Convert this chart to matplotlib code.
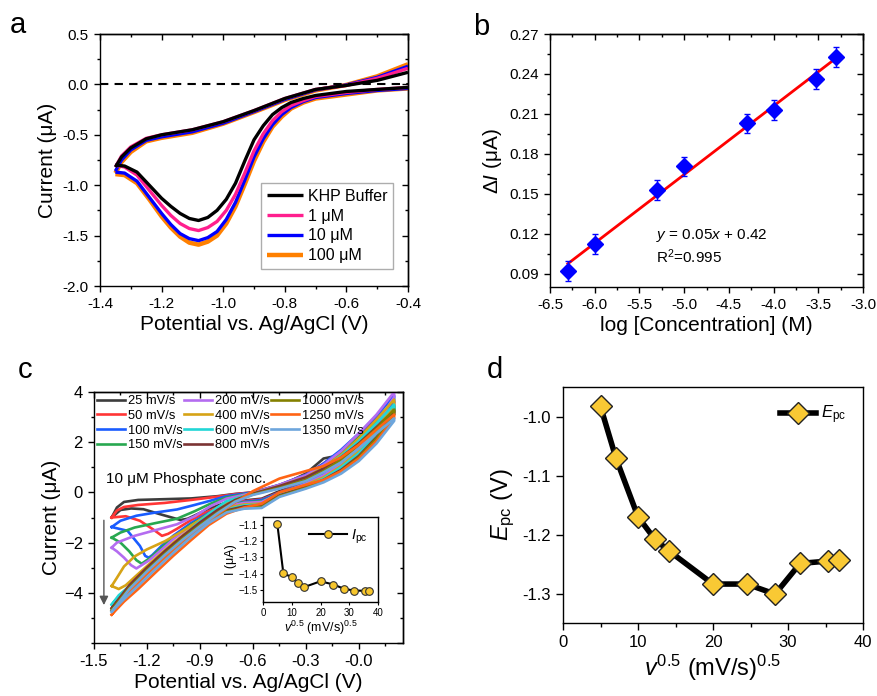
import numpy as np
import matplotlib
matplotlib.use("Agg")
import matplotlib.pyplot as plt
from matplotlib.ticker import MultipleLocator, NullFormatter

plt.rcParams['font.family'] = ['Liberation Sans', 'DejaVu Sans']
plt.rcParams['mathtext.fontset'] = 'custom'
plt.rcParams['mathtext.rm'] = 'Liberation Sans'
plt.rcParams['mathtext.it'] = 'Liberation Sans:italic'
plt.rcParams['axes.linewidth'] = 1.0

# ---------------- panel a: CV in KHP buffer ----------------
a_up_x = [-1.35, -1.33, -1.30, -1.25, -1.20, -1.10, -1.00, -0.90, -0.80, -0.70, -0.60, -0.50, -0.40]
a_lo_x = [-0.40, -0.50, -0.60, -0.65, -0.70, -0.74, -0.78, -0.81, -0.84, -0.87, -0.90, -0.93,
          -0.96, -0.99, -1.02, -1.05, -1.08, -1.11, -1.14, -1.17, -1.20, -1.24, -1.28, -1.32, -1.35]
a_labels = ["KHP Buffer", "1 \u03bcM", "10 \u03bcM", "100 \u03bcM"]
a_colors = ["#000000", "#ff1f8e", "#0000ff", "#ff8000"]
a_up_y = [
    [-0.82, -0.72, -0.63, -0.54, -0.50, -0.45, -0.37, -0.26, -0.14, -0.05, -0.01, 0.04, 0.12],
    [-0.82, -0.71, -0.62, -0.535, -0.50, -0.45, -0.37, -0.26, -0.14, -0.05, -0.01, 0.06, 0.16],
    [-0.86, -0.75, -0.65, -0.555, -0.52, -0.47, -0.385, -0.27, -0.15, -0.055, -0.005, 0.07, 0.18],
    [-0.88, -0.77, -0.67, -0.565, -0.53, -0.48, -0.39, -0.275, -0.155, -0.06, -0.005, 0.08, 0.20],
]
a_lo_y = [
    [-0.03, -0.05, -0.07, -0.09, -0.11, -0.14, -0.18, -0.23, -0.30, -0.41, -0.55, -0.76,
     -0.98, -1.14, -1.25, -1.32, -1.35, -1.33, -1.28, -1.21, -1.13, -1.00, -0.87, -0.81, -0.80],
    [-0.03, -0.05, -0.08, -0.10, -0.12, -0.16, -0.21, -0.27, -0.36, -0.49, -0.66, -0.88,
     -1.09, -1.25, -1.36, -1.42, -1.45, -1.43, -1.38, -1.30, -1.20, -1.05, -0.90, -0.82, -0.80],
    [-0.04, -0.06, -0.09, -0.11, -0.13, -0.17, -0.23, -0.30, -0.40, -0.54, -0.72, -0.95,
     -1.17, -1.34, -1.46, -1.52, -1.55, -1.53, -1.48, -1.39, -1.28, -1.12, -0.96, -0.88, -0.87],
    [-0.04, -0.06, -0.10, -0.12, -0.14, -0.18, -0.24, -0.32, -0.42, -0.57, -0.76, -0.99,
     -1.21, -1.38, -1.50, -1.56, -1.59, -1.57, -1.51, -1.42, -1.31, -1.14, -0.98, -0.90, -0.89],
]

# ---------------- panel b: calibration ----------------
b_x = np.array([-6.30, -6.00, -5.30, -5.00, -4.30, -4.00, -3.52, -3.30])
b_y = np.array([0.0923, 0.1123, 0.1528, 0.1706, 0.2029, 0.2127, 0.2365, 0.2527])
b_err = np.array([0.0075, 0.0075, 0.0075, 0.0070, 0.0070, 0.0075, 0.0075, 0.0075])

# ---------------- panel c: scan rates ----------------
c_labels = ["25 mV/s", "50 mV/s", "100 mV/s", "150 mV/s", "200 mV/s", "400 mV/s",
            "600 mV/s", "800 mV/s", "1000 mV/s", "1250 mV/s", "1350 mV/s"]
c_colors = ["#3c3c3c", "#ff3535", "#1a5cff", "#28a850", "#b46cf0", "#d6a316",
            "#22d6d6", "#7b3434", "#848000", "#ff6414", "#6ea6dc"]
c_25 = [(-1.40, -1.00), (-1.37, -0.60), (-1.33, -0.38), (-1.25, -0.30), (-1.10, -0.27), (-0.95, -0.24),
        (-0.80, -0.15), (-0.70, -0.06), (-0.60, 0.00), (-0.45, 0.25), (-0.30, 0.75), (-0.20, 1.35),
        (-0.13, 1.45), (-0.05, 1.75), (0.05, 2.35), (0.12, 2.85), (0.20, 3.35),
        (0.20, 3.20), (0.10, 2.40), (0.00, 1.65), (-0.10, 1.10), (-0.20, 0.75), (-0.30, 0.45),
        (-0.45, 0.05), (-0.55, -0.25), (-0.65, -0.32), (-0.75, -0.40), (-0.85, -0.65), (-0.93, -0.92),
        (-0.97, -1.05), (-1.01, -1.10), (-1.06, -1.00), (-1.13, -0.86), (-1.22, -0.67), (-1.29, -0.64),
        (-1.35, -0.70), (-1.40, -1.00)]
c_50 = [(-1.40, -1.00), (-1.37, -0.72), (-1.33, -0.58), (-1.25, -0.50), (-1.10, -0.42), (-0.95, -0.30),
        (-0.80, -0.17), (-0.70, -0.07), (-0.60, 0.00), (-0.45, 0.30), (-0.30, 0.70), (-0.20, 1.15),
        (-0.10, 1.65), (0.00, 2.30), (0.10, 2.95), (0.20, 3.60),
        (0.20, 3.40), (0.10, 2.50), (0.00, 1.70), (-0.10, 1.10), (-0.20, 0.70), (-0.30, 0.40),
        (-0.45, 0.00), (-0.55, -0.28), (-0.65, -0.35), (-0.75, -0.45), (-0.85, -0.75), (-0.95, -1.10),
        (-1.03, -1.45), (-1.08, -1.65), (-1.115, -1.73), (-1.16, -1.50), (-1.24, -1.13), (-1.32, -0.95),
        (-1.40, -1.00)]
c_100 = [(-1.40, -1.38), (-1.35, -1.13), (-1.26, -0.93), (-1.15, -0.80), (-1.03, -0.68), (-0.93, -0.50),
         (-0.84, -0.33), (-0.75, -0.15), (-0.60, 0.00), (-0.45, 0.30), (-0.30, 0.70), (-0.20, 1.15),
         (-0.10, 1.70), (0.00, 2.35), (0.10, 3.05), (0.20, 3.85),
         (0.20, 3.60), (0.10, 2.60), (0.00, 1.75), (-0.10, 1.15), (-0.20, 0.70), (-0.30, 0.38),
         (-0.45, -0.02), (-0.55, -0.30), (-0.65, -0.38), (-0.75, -0.50), (-0.85, -0.82), (-0.95, -1.22),
         (-1.05, -1.72), (-1.12, -2.15), (-1.17, -2.50), (-1.19, -2.60), (-1.21, -2.53), (-1.24, -2.13),
         (-1.31, -1.53), (-1.40, -1.38)]
c_150 = [(-1.40, -1.80), (-1.35, -1.60), (-1.27, -1.40), (-1.15, -1.22), (-1.03, -1.05), (-0.93, -0.75),
         (-0.84, -0.45), (-0.75, -0.20), (-0.60, -0.02), (-0.45, 0.28), (-0.30, 0.65), (-0.20, 1.05),
         (-0.10, 1.55), (0.00, 2.20), (0.10, 2.85), (0.20, 3.45),
         (0.20, 3.30), (0.10, 2.40), (0.00, 1.60), (-0.10, 1.05), (-0.20, 0.65), (-0.30, 0.35),
         (-0.45, -0.05), (-0.55, -0.35), (-0.65, -0.40), (-0.75, -0.52), (-0.85, -0.86), (-0.95, -1.28),
         (-1.05, -1.80), (-1.12, -2.22), (-1.18, -2.60), (-1.23, -2.84), (-1.26, -2.70), (-1.30, -2.35),
         (-1.35, -2.00), (-1.40, -1.80)]
c_200 = [(-1.40, -2.20), (-1.37, -2.00), (-1.27, -1.73), (-1.15, -1.50), (-1.03, -1.27), (-0.93, -0.95),
         (-0.84, -0.55), (-0.75, -0.25), (-0.60, -0.02), (-0.45, 0.30), (-0.30, 0.68), (-0.20, 1.10),
         (-0.10, 1.65), (0.00, 2.35), (0.10, 3.10), (0.20, 4.00),
         (0.20, 3.80), (0.10, 2.70), (0.00, 1.80), (-0.10, 1.15), (-0.20, 0.68), (-0.30, 0.35),
         (-0.45, -0.05), (-0.55, -0.38), (-0.65, -0.42), (-0.75, -0.55), (-0.85, -0.90), (-0.95, -1.33),
         (-1.05, -1.86), (-1.12, -2.30), (-1.19, -2.72), (-1.26, -3.03), (-1.29, -2.90), (-1.33, -2.60),
         (-1.37, -2.35), (-1.40, -2.20)]
c_400 = [(-1.40, -3.73), (-1.37, -3.40), (-1.33, -2.95), (-1.27, -2.55), (-1.20, -2.27), (-1.10, -1.95),
         (-1.00, -1.55), (-0.90, -1.10), (-0.80, -0.60), (-0.70, -0.25), (-0.60, -0.05), (-0.45, 0.25),
         (-0.30, 0.60), (-0.20, 1.00), (-0.10, 1.50), (0.00, 2.15), (0.10, 2.90), (0.20, 3.70),
         (0.20, 3.50), (0.10, 2.50), (0.00, 1.65), (-0.10, 1.05), (-0.20, 0.60), (-0.30, 0.30),
         (-0.45, -0.08), (-0.55, -0.45), (-0.65, -0.48), (-0.75, -0.62), (-0.85, -0.98), (-0.95, -1.45),
         (-1.05, -2.00), (-1.15, -2.62), (-1.25, -3.25), (-1.32, -3.70), (-1.36, -3.85), (-1.40, -3.73)]
c_600 = [(-1.40, -4.47), (-1.36, -4.10), (-1.31, -3.80), (-1.22, -3.20), (-1.12, -2.60), (-1.02, -1.95),
         (-0.93, -1.33), (-0.85, -0.85), (-0.75, -0.35), (-0.60, -0.05), (-0.45, 0.22), (-0.30, 0.55),
         (-0.20, 0.95), (-0.10, 1.45), (0.00, 2.05), (0.10, 2.75), (0.20, 3.50),
         (0.20, 3.30), (0.10, 2.35), (0.00, 1.55), (-0.10, 1.00), (-0.20, 0.55), (-0.30, 0.25),
         (-0.45, -0.10), (-0.55, -0.48), (-0.65, -0.52), (-0.75, -0.68), (-0.85, -1.05), (-0.95, -1.55),
         (-1.05, -2.12), (-1.15, -2.75), (-1.25, -3.40), (-1.33, -3.95), (-1.40, -4.47)]
c_800 = [(-1.40, -4.62), (-1.30, -3.70), (-1.20, -3.00), (-1.10, -2.35), (-1.00, -1.75), (-0.90, -1.20),
         (-0.80, -0.70), (-0.70, -0.30), (-0.60, -0.05), (-0.45, 0.25), (-0.30, 0.60), (-0.20, 0.95),
         (-0.10, 1.40), (0.00, 1.95), (0.10, 2.60), (0.20, 3.25),
         (0.20, 3.10), (0.10, 2.20), (0.00, 1.45), (-0.10, 0.90), (-0.20, 0.50), (-0.30, 0.22),
         (-0.45, -0.12), (-0.55, -0.52), (-0.65, -0.56), (-0.75, -0.72), (-0.85, -1.10), (-0.95, -1.62),
         (-1.05, -2.20), (-1.15, -2.85), (-1.25, -3.50), (-1.33, -4.05), (-1.40, -4.62)]
c_1000 = [(-1.40, -4.70), (-1.30, -3.80), (-1.20, -3.10), (-1.10, -2.45), (-1.00, -1.85), (-0.90, -1.30),
          (-0.80, -0.80), (-0.70, -0.35), (-0.60, -0.08), (-0.45, 0.18), (-0.30, 0.50), (-0.20, 0.85),
          (-0.10, 1.30), (0.00, 1.90), (0.10, 2.55), (0.20, 3.30),
          (0.20, 3.10), (0.10, 2.15), (0.00, 1.40), (-0.10, 0.85), (-0.20, 0.45), (-0.30, 0.18),
          (-0.45, -0.15), (-0.55, -0.58), (-0.65, -0.62), (-0.75, -0.76), (-0.85, -1.15), (-0.95, -1.68),
          (-1.05, -2.28), (-1.15, -2.92), (-1.25, -3.58), (-1.33, -4.12), (-1.40, -4.70)]
c_1250 = [(-1.40, -4.87), (-1.30, -3.95), (-1.20, -3.25), (-1.10, -2.60), (-1.00, -1.97), (-0.90, -1.40),
          (-0.80, -0.88), (-0.70, -0.40), (-0.60, 0.05), (-0.45, 0.55), (-0.30, 0.85), (-0.20, 1.05),
          (-0.10, 1.40), (0.00, 1.90), (0.10, 2.50), (0.20, 3.10),
          (0.20, 2.95), (0.10, 2.05), (0.00, 1.35), (-0.10, 0.85), (-0.20, 0.50), (-0.30, 0.30),
          (-0.45, 0.00), (-0.55, -0.45), (-0.65, -0.60), (-0.75, -0.85), (-0.85, -1.30), (-0.95, -1.90),
          (-1.05, -2.52), (-1.15, -3.18), (-1.25, -3.85), (-1.33, -4.35), (-1.40, -4.87)]
c_1350 = [(-1.40, -4.75), (-1.30, -3.85), (-1.20, -3.15), (-1.10, -2.50), (-1.00, -1.90), (-0.90, -1.35),
          (-0.80, -0.83), (-0.70, -0.37), (-0.60, -0.10), (-0.45, 0.15), (-0.30, 0.45), (-0.20, 0.80),
          (-0.10, 1.20), (0.00, 1.75), (0.10, 2.35), (0.20, 2.95),
          (0.20, 2.85), (0.10, 1.95), (0.00, 1.25), (-0.10, 0.75), (-0.20, 0.40), (-0.30, 0.15),
          (-0.45, -0.18), (-0.55, -0.62), (-0.65, -0.65), (-0.75, -0.80), (-0.85, -1.22), (-0.95, -1.78),
          (-1.05, -2.40), (-1.15, -3.05), (-1.25, -3.72), (-1.33, -4.25), (-1.40, -4.75)]
c_curves = [c_25, c_50, c_100, c_150, c_200, c_400, c_600, c_800, c_1000, c_1250, c_1350]

# sqrt(scan rate) and peak values (inset of c, panel d)
v_sqrt = [5.0, 7.07, 10.0, 12.25, 14.14, 20.0, 24.49, 28.28, 31.62, 35.36, 36.74]
i_pc = [-1.096, -1.397, -1.422, -1.459, -1.484, -1.447, -1.467, -1.494, -1.504, -1.506, -1.508]
e_pc = [-0.983, -1.071, -1.170, -1.208, -1.228, -1.284, -1.284, -1.301, -1.249, -1.245, -1.244]


def box_ticks(ax, xmaj, xmin, ymaj, ymin, size):
    ax.xaxis.set_major_locator(MultipleLocator(xmaj))
    ax.xaxis.set_minor_locator(MultipleLocator(xmin))
    ax.yaxis.set_major_locator(MultipleLocator(ymaj))
    ax.yaxis.set_minor_locator(MultipleLocator(ymin))
    ax.tick_params(which='both', direction='out', labelsize=size, width=1)
    ax.tick_params(which='major', length=4.5)
    ax.tick_params(which='minor', length=2.5)
    top = ax.secondary_xaxis('top')
    top.xaxis.set_major_locator(MultipleLocator(xmaj))
    top.xaxis.set_minor_locator(MultipleLocator(xmin))
    top.xaxis.set_major_formatter(NullFormatter())
    top.tick_params(which='both', direction='in', width=1)
    top.tick_params(which='major', length=4.5)
    top.tick_params(which='minor', length=2.5)
    right = ax.secondary_yaxis('right')
    right.yaxis.set_major_locator(MultipleLocator(ymaj))
    right.yaxis.set_minor_locator(MultipleLocator(ymin))
    right.yaxis.set_major_formatter(NullFormatter())
    right.tick_params(which='both', direction='in', width=1)
    right.tick_params(which='major', length=4.5)
    right.tick_params(which='minor', length=2.5)


fig = plt.figure(figsize=(8.77, 6.96), dpi=100)
W, H = 877.0, 696.0


def place(l, t, r, b):
    return [l / W, 1 - b / H, (r - l) / W, (b - t) / H]


# ---- a ----
ax_a = fig.add_axes(place(100, 34, 408, 286))
lines = []
for i in [3, 2, 1, 0]:
    lw = 3.2 if i == 3 else 2.4
    ax_a.plot(a_up_x, a_up_y[i], color=a_colors[i], lw=lw, solid_capstyle='butt')
    ln, = ax_a.plot(a_lo_x, a_lo_y[i], color=a_colors[i], lw=lw, label=a_labels[i],
                    solid_capstyle='butt')
    lines.append(ln)
ax_a.axhline(0, color='black', ls='--', lw=1.5, dashes=(4, 3))
ax_a.set_xlim(-1.4, -0.4)
ax_a.set_ylim(-2.0, 0.5)
box_ticks(ax_a, 0.2, 0.1, 0.5, 0.25, 11)
ax_a.xaxis.set_major_formatter(plt.FuncFormatter(lambda v, p: f"{v:.1f}"))
ax_a.yaxis.set_major_formatter(plt.FuncFormatter(lambda v, p: f"{v:.1f}"))
ax_a.set_xlabel("Potential vs. Ag/AgCl (V)", fontsize=15, labelpad=3)
ax_a.set_ylabel("Current (\u03bcA)", fontsize=15, labelpad=4)
leg = ax_a.legend(handles=lines[::-1], loc='lower right', bbox_to_anchor=(0.951, 0.068),
                  fontsize=11.5, frameon=True, fancybox=False, edgecolor='#999999',
                  handlelength=2.25, handletextpad=0.3, labelspacing=0.3, borderpad=0.35,
                  borderaxespad=0.0)
leg.get_frame().set_linewidth(1.0)

# ---- b ----
ax_b = fig.add_axes(place(550, 34, 863, 287))
coef = np.polyfit(b_x, b_y, 1)
fit_x = np.array([b_x.min(), b_x.max()])
ax_b.plot(fit_x, np.polyval(coef, fit_x), color='#ff0000', lw=2, zorder=2)
ax_b.errorbar(b_x, b_y, yerr=b_err, fmt='D', color='#0000ff', ms=8, capsize=2.5,
              elinewidth=1, capthick=1, zorder=3)
ax_b.set_xlim(-6.5, -3.0)
ax_b.set_ylim(0.08, 0.27)
box_ticks(ax_b, 0.5, 0.25, 0.03, 0.015, 11)
ax_b.xaxis.set_major_formatter(plt.FuncFormatter(lambda v, p: f"{v:.1f}"))
ax_b.yaxis.set_major_formatter(plt.FuncFormatter(lambda v, p: f"{v:.2f}"))
ax_b.set_xlabel("log [Concentration] (M)", fontsize=15, labelpad=3)
ax_b.set_ylabel("\u0394$\\mathit{I}$ (\u03bcA)", fontsize=15, labelpad=4)
ax_b.text(-5.31, 0.1185, "$\\mathit{y}$ = 0.05$\\mathit{x}$ + 0.42", fontsize=11, va='center')
ax_b.text(-5.31, 0.1030, "R$^2$=0.995", fontsize=11, va='center')

# ---- c ----
ax_c = fig.add_axes(place(94, 392, 403, 643))
for pts, col, lab in zip(c_curves, c_colors, c_labels):
    xs = [p[0] for p in pts]
    ys = [p[1] for p in pts]
    ax_c.plot(xs, ys, color=col, lw=1.9, label=lab)
ax_c.set_xlim(-1.5, 0.25)
ax_c.set_ylim(-6, 4)
box_ticks(ax_c, 0.3, 0.15, 2, 1, 12)
ax_c.set_yticks([-4, -2, 0, 2, 4])
ax_c.xaxis.set_major_formatter(plt.FuncFormatter(lambda v, p: f"{v:.1f}"))
ax_c.set_xlabel("Potential vs. Ag/AgCl (V)", fontsize=15, labelpad=3)
ax_c.set_ylabel("Current (\u03bcA)", fontsize=15, labelpad=2)
ax_c.legend(loc='upper left', ncol=3, fontsize=9.3, frameon=False, handlelength=2.15,
            handletextpad=0.25, columnspacing=0.1, labelspacing=0.2,
            borderaxespad=0.0, borderpad=0.25, bbox_to_anchor=(0.0, 1.0))
ax_c.text(-1.43, 0.55, "10 \u03bcM Phosphate conc.", fontsize=11, va='center')
arrow_x, arrow_top, arrow_bot = -1.444, -1.0, -4.6
ax_c.annotate("", xy=(arrow_x, arrow_bot), xytext=(arrow_x, arrow_top),
              arrowprops=dict(arrowstyle='-|>', color='#555555', lw=1, mutation_scale=13))

# inset
ax_i = fig.add_axes(place(263, 517, 378, 602))
ax_i.plot(v_sqrt, i_pc, '-o', color='black', lw=1.5, ms=5.5, mfc='#f7c62c', mec='#333333',
          mew=0.8, label="$\\mathit{I}_{\\mathrm{pc}}$")
ax_i.set_xlim(0, 40)
ax_i.set_ylim(-1.575, -1.05)
ax_i.xaxis.set_major_locator(MultipleLocator(10))
ax_i.yaxis.set_major_locator(MultipleLocator(0.1))
ax_i.tick_params(labelsize=7, length=2.5, width=0.8, pad=1.5)
ax_i.set_xlabel("$\\mathit{v}^{0.5}$ (mV/s)$^{0.5}$", fontsize=9, labelpad=1)
ax_i.set_ylabel("I (\u03bcA)", fontsize=9, labelpad=1)
ax_i.legend(loc='upper right', fontsize=10.5, frameon=False, handlelength=2.6,
            handletextpad=0.3, borderaxespad=0.3)

# ---- d ----
ax_d = fig.add_axes(place(563, 387, 863, 623))
ax_d.plot(v_sqrt, e_pc, '-D', color='black', lw=4, ms=11, mfc='#f9c934', mec='#222222',
          mew=1, label="$\\mathit{E}_{\\mathrm{pc}}$")
ax_d.set_xlim(0, 40)
ax_d.set_ylim(-1.35, -0.95)
ax_d.xaxis.set_major_locator(MultipleLocator(10))
ax_d.xaxis.set_minor_locator(MultipleLocator(5))
ax_d.yaxis.set_major_locator(MultipleLocator(0.1))
ax_d.tick_params(which='both', direction='out', labelsize=12, width=1)
ax_d.tick_params(which='major', length=5)
ax_d.tick_params(which='minor', length=3)
ax_d.yaxis.set_major_formatter(plt.FuncFormatter(lambda v, p: f"{v:.1f}"))
ax_d.set_xlabel("$\\mathit{v}^{0.5}$ (mV/s)$^{0.5}$", fontsize=17, labelpad=2)
ax_d.set_ylabel("$\\mathit{E}_{\\mathrm{pc}}$ (V)", fontsize=17, labelpad=4)
ax_d.legend(loc='upper right', fontsize=12, frameon=False, handlelength=2.2,
            handletextpad=0.3, borderaxespad=0.6)

# panel letters
for lab, x, y in [("a", 10, 33), ("b", 473, 35), ("c", 18, 378), ("d", 487, 378)]:
    fig.text(x / W, 1 - y / H, lab, fontsize=21, va='baseline', ha='left')

fig.savefig("out.png", dpi=100)
